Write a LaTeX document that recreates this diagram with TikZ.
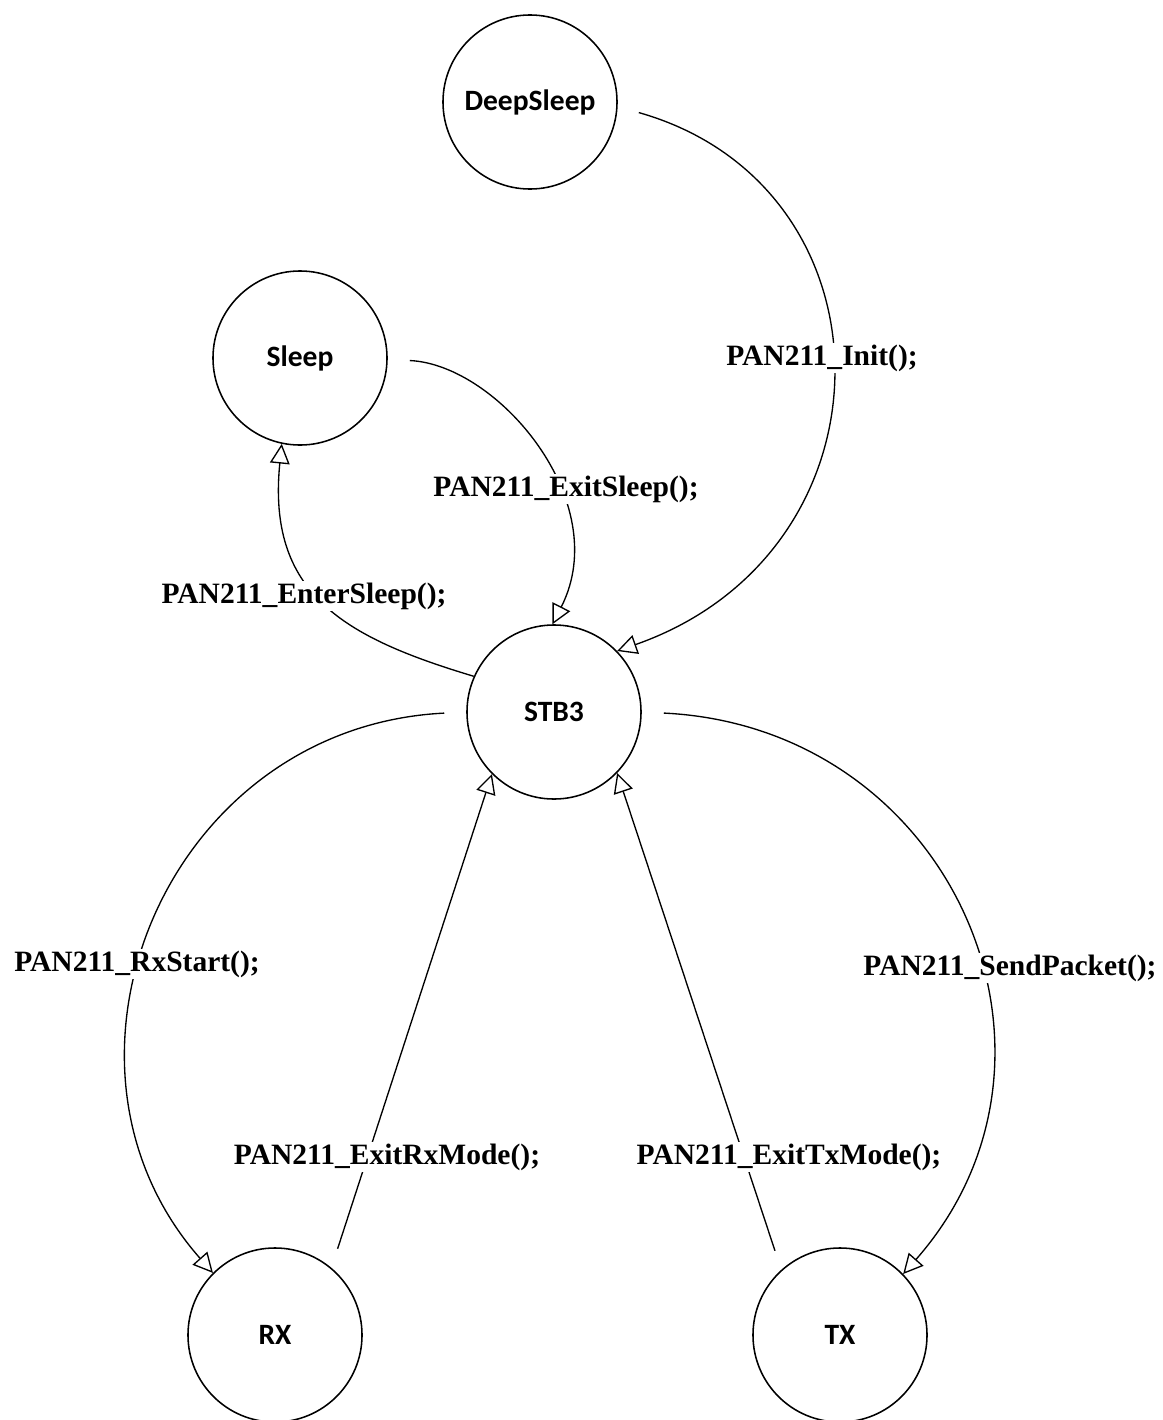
\documentclass[tikz,border=0pt]{standalone}
\usepackage{fontspec}
\setmainfont{Liberation Serif}
\newfontfamily\statefont{Carlito}
\usetikzlibrary{arrows.meta}
\tikzset{
    state/.style={draw,circle,minimum size=4.35cm,inner sep=0pt,line width=1.1pt,
        font=\statefont\bfseries\fontsize{21}{24}\selectfont},
    trans/.style={line width=0.95pt,-{Triangle[open,length=14pt,width=14pt]}},
    lbl/.style={fill=white,inner sep=1pt,font=\bfseries\fontsize{21}{24}\selectfont}
}
\begin{document}
\begin{tikzpicture}[x=0.025cm,y=-0.025cm]
    \useasboundingbox (0,0) rectangle (1163,1420);
    % states
    \node[state] (deep) at (530,102) {DeepSleep};
    \node[state] (sleep) at (300,358) {Sleep};
    \node[state] (stb) at (554,712) {STB3};
    \node[state] (rx) at (275,1335) {RX};
    \node[state] (tx) at (840,1335) {TX};
    % transitions
    \draw[trans,shorten <=0.55cm] (deep.-3) .. controls +(282,80) and +(285,-100) .. (stb.44);
    \draw[trans,shorten <=0.55cm] (sleep.-1) .. controls +(110,5) and +(62,-122) .. (stb.91);
    \draw[trans] (stb.156) .. controls +(-130,-39) and +(-15,150) .. (sleep.-102);
    \draw[trans,shorten <=0.55cm] (stb.180) .. controls +(-300,15) and +(-185,-210) .. (rx.135);
    \draw[trans,shorten <=0.55cm] (stb.0) .. controls +(310,15) and +(192,-218) .. (tx.44);
    \draw[trans,shorten <=0.5cm] (rx.50) -- (stb.-135);
    \draw[trans,shorten <=0.5cm] (tx.132) -- (stb.-44);
    % labels
    \node[lbl] (linit) at (822,358) {PAN211\_Init();};
    \node[lbl] (lexit) at (566,489) {PAN211\_ExitSleep();};
    \node[lbl] (lenter) at (304,596) {PAN211\_EnterSleep();};
    \node[lbl] (lrx) at (137,964) {PAN211\_RxStart();};
    \node[lbl] (lsend) at (1010,968) {PAN211\_SendPacket();};
    \node[lbl] (lexrx) at (387,1157) {PAN211\_ExitRxMode();};
    \node[lbl] (lextx) at (789,1157) {PAN211\_ExitTxMode();};
\end{tikzpicture}
\end{document}
